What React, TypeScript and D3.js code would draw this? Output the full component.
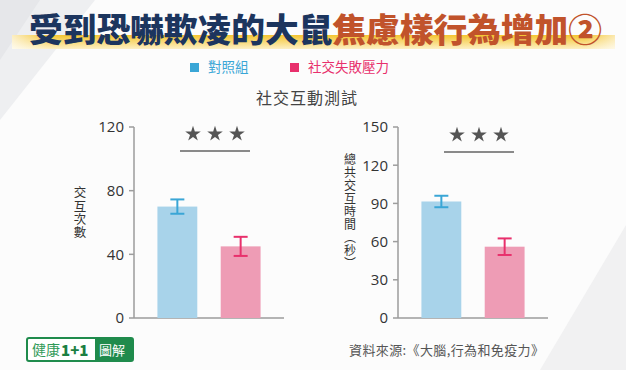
import React from "react";
import * as d3 from "d3";

// groups and colours
const groups = ["對照組", "社交失敗壓力"];
const groupColors = ["#3aa6d6", "#e8306c"];
const barFills = ["#a8d3ea", "#ee9cb5"];

// left panel: number of interactions
const countMeans = [70, 45];
const countErrors = [4.5, 6];
const countTicks = [0, 40, 80, 120];

// right panel: total interaction time (seconds)
const timeMeans = [91.5, 56];
const timeErrors = [4.5, 6.5];
const timeTicks = [0, 30, 60, 90, 120, 150];

const FONT = "'Noto Sans CJK TC', 'Noto Sans', sans-serif";
const starPath = d3.symbol(d3.symbolStar, 75)() as string;

interface PanelProps {
  axisX: number;
  means: number[];
  errors: number[];
  ticks: number[];
  label: string;
  labelX: number;
  labelY: number;
  labelSize: number;
  labelSpacing: number;
  sigY: number;
}

const Panel: React.FC<PanelProps> = ({ axisX, means, errors, ticks, label, labelX, labelY, labelSize, labelSpacing, sigY }) => {
  const y = d3.scaleLinear().domain([0, d3.max(ticks)!]).range([318, 127]);
  const x = d3.scaleBand<string>()
    .domain(groups)
    .range([axisX, axisX + 150])
    .paddingInner(0.37)
    .paddingOuter(0.37);
  const bw = x.bandwidth();
  const c1 = x(groups[0])! + bw / 2;
  const c2 = x(groups[1])! + bw / 2;
  const mid = (c1 + c2) / 2 + 6;

  return (
    <g>
      {/* axis */}
      <line x1={axisX} x2={axisX} y1={y(0)} y2={y(d3.max(ticks)!)} stroke="#9d9d9d" strokeWidth={1.5} />
      <line x1={axisX} x2={axisX + 150} y1={y(0)} y2={y(0)} stroke="#9d9d9d" strokeWidth={1.5} />
      {ticks.map(t => (
        <g key={t}>
          <line x1={axisX - 5} x2={axisX} y1={y(t)} y2={y(t)} stroke="#9d9d9d" strokeWidth={1.5} />
          <text x={axisX - 10} y={y(t)} dy="0.36em" textAnchor="end" fontSize={15} fill="#333" fontFamily="'Open Sans', sans-serif">{t}</text>
        </g>
      ))}
      <text x={labelX} y={labelY} textAnchor="middle" fontSize={labelSize} fill="#333" fontFamily={FONT}
        letterSpacing={labelSpacing} style={{ writingMode: "vertical-rl" }}>{label}</text>

      {/* bars */}
      {groups.map((g, i) => (
        <g key={g}>
          <rect x={x(g)} y={y(means[i])} width={bw} height={y(0) - y(means[i])} fill={barFills[i]} />
          <line x1={x(g)! + bw / 2} x2={x(g)! + bw / 2} y1={y(means[i] + errors[i])} y2={y(means[i] - errors[i])} stroke={groupColors[i]} strokeWidth={2} />
          <line x1={x(g)! + bw / 2 - 7} x2={x(g)! + bw / 2 + 7} y1={y(means[i] + errors[i])} y2={y(means[i] + errors[i])} stroke={groupColors[i]} strokeWidth={2} />
          <line x1={x(g)! + bw / 2 - 7} x2={x(g)! + bw / 2 + 7} y1={y(means[i] - errors[i])} y2={y(means[i] - errors[i])} stroke={groupColors[i]} strokeWidth={2} />
        </g>
      ))}

      {/* significance */}
      <line x1={mid - 35} x2={mid + 35} y1={sigY} y2={sigY} stroke="#8a8a8a" strokeWidth={2} />
      {[-22, 0, 22].map(d => (
        <path key={d} d={starPath} transform={`translate(${mid + d},${sigY - 17})`} fill="#555" />
      ))}
    </g>
  );
};

const App: React.FC = () => {
  return (
    <svg width={626} height={370} style={{ position: "fixed", left: 0, top: 0, display: "block" }}>
      <defs>
        <linearGradient id="band" x1="0" x2="0" y1="0" y2="1">
          <stop offset="0%" stopColor="#f4c531" />
          <stop offset="100%" stopColor="#fdf0c4" />
        </linearGradient>
        <linearGradient id="bandFade" x1="0" x2="1" y1="0" y2="0">
          <stop offset="0%" stopColor="#fff" stopOpacity={0.7} />
          <stop offset="6%" stopColor="#fff" stopOpacity={0} />
          <stop offset="95%" stopColor="#fff" stopOpacity={0} />
          <stop offset="100%" stopColor="#fff" stopOpacity={0.6} />
        </linearGradient>
      </defs>

      {/* background */}
      <rect width={626} height={370} fill="#fcfcfc" />
      <polygon points="0,0 95,0 0,120" fill="#eeeff1" />
      <polygon points="0,0 40,0 0,60" fill="#e6e7ea" />
      <polygon points="626,225 626,370 540,370" fill="#f1f1f2" />

      {/* title */}
      <rect x={12} y={35} width={603} height={14} fill="url(#band)" />
      <rect x={12} y={35} width={603} height={14} fill="url(#bandFade)" />
      <text x={29} y={42} fontSize={33} fontWeight={900} fontFamily={FONT} textLength={573} lengthAdjust="spacingAndGlyphs">
        <tspan fill="#1c355e">受到恐嚇欺凌的大鼠</tspan>
        <tspan fill="#c1532b">焦慮樣行為增加②</tspan>
      </text>

      {/* legend */}
      {groups.map((g, i) => (
        <g key={g} transform={`translate(${[190, 290][i]},63)`}>
          <rect width={9} height={9} fill={groupColors[i]} />
          <text x={18} y={9} fontSize={13.5} fill={groupColors[i]} fontFamily={FONT}>{g}</text>
        </g>
      ))}

      <text x={307} y={104} textAnchor="middle" fontSize={16} fill="#444" fontFamily={FONT} letterSpacing={1}>社交互動測試</text>

      <Panel axisX={134} means={countMeans} errors={countErrors} ticks={countTicks}
        label="交互次數" labelX={80} labelY={213} labelSize={12.5} labelSpacing={0.8} sigY={151} />
      <Panel axisX={398} means={timeMeans} errors={timeErrors} ticks={timeTicks}
        label="總共交互時間（秒）" labelX={350} labelY={212} labelSize={12} labelSpacing={1} sigY={152} />

      {/* logo */}
      <g transform="translate(27,338)">
        <rect x={0} y={0} width={106} height={23} rx={2} fill="#fff" stroke="#1f8b4c" strokeWidth={2} />
        <rect x={68} y={0} width={38} height={23} fill="#1f8b4c" />
        <text x={5} y={17} fontSize={14} fontFamily={FONT} fill="#2f9a58">健康</text>
        <text x={34} y={17.5} fontSize={15} fontWeight={900} fontFamily={FONT} fill="#1c7f42">1+1</text>
        <text x={72} y={17} fontSize={13} fontFamily={FONT} fill="#fff">圖解</text>
      </g>

      <text x={349} y={355} fontSize={13} fill="#555" fontFamily={FONT} textLength={195} lengthAdjust="spacing">資料來源:《大腦,行為和免疫力》</text>
    </svg>
  );
};

export default App;
